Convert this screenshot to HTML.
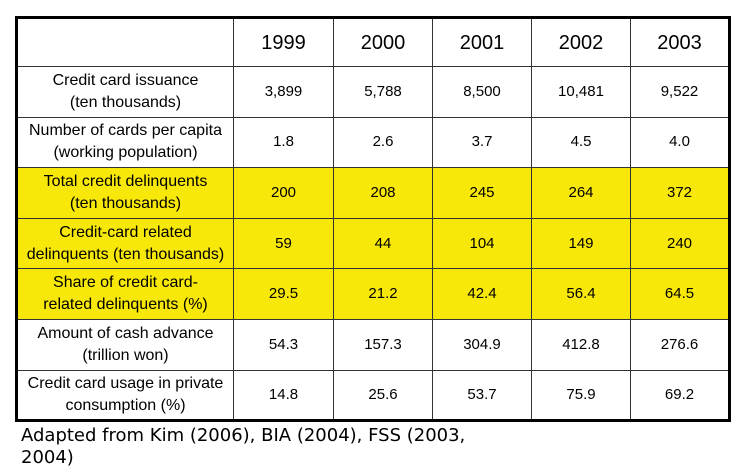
<!DOCTYPE html>
<html><head><meta charset="utf-8"><style>
body{margin:0;width:742px;height:472px;background:#fff;position:relative;overflow:hidden;font-family:"Liberation Sans",sans-serif;}
table{position:absolute;left:15px;top:16px;border-collapse:collapse;table-layout:fixed;border:3px solid #000;}
td{border:1.5px solid #333;text-align:center;vertical-align:middle;padding:0;font-size:15px;color:#000;line-height:22px;}
td.l{font-size:16px;}
tr{height:50.6px;}
tr.h{height:49px;}
tr.h td{font-size:20px;}
tr.y td{background:#f7e809;}
.cap{position:absolute;left:21px;top:425px;font-family:"DejaVu Sans",sans-serif;font-size:18px;line-height:22px;color:#000;width:470px;}
</style></head><body>
<table>
<colgroup><col style="width:217px"><col style="width:100px"><col style="width:99px"><col style="width:99px"><col style="width:99px"><col style="width:99px"></colgroup>
<tr class="h"><td></td><td>1999</td><td>2000</td><td>2001</td><td>2002</td><td>2003</td></tr>
<tr><td class="l">Credit card issuance<br>(ten thousands)</td><td>3,899</td><td>5,788</td><td>8,500</td><td>10,481</td><td>9,522</td></tr>
<tr><td class="l">Number of cards per capita<br>(working population)</td><td>1.8</td><td>2.6</td><td>3.7</td><td>4.5</td><td>4.0</td></tr>
<tr class="y"><td class="l">Total credit delinquents<br>(ten thousands)</td><td>200</td><td>208</td><td>245</td><td>264</td><td>372</td></tr>
<tr class="y"><td class="l">Credit-card related<br>delinquents (ten thousands)</td><td>59</td><td>44</td><td>104</td><td>149</td><td>240</td></tr>
<tr class="y"><td class="l">Share of credit card-<br>related delinquents (%)</td><td>29.5</td><td>21.2</td><td>42.4</td><td>56.4</td><td>64.5</td></tr>
<tr><td class="l">Amount of cash advance<br>(trillion won)</td><td>54.3</td><td>157.3</td><td>304.9</td><td>412.8</td><td>276.6</td></tr>
<tr><td class="l">Credit card usage in private<br>consumption (%)</td><td>14.8</td><td>25.6</td><td>53.7</td><td>75.9</td><td>69.2</td></tr>
</table>
<div class="cap">Adapted from Kim (2006), BIA (2004), FSS (2003, 2004)</div>
</body></html>
